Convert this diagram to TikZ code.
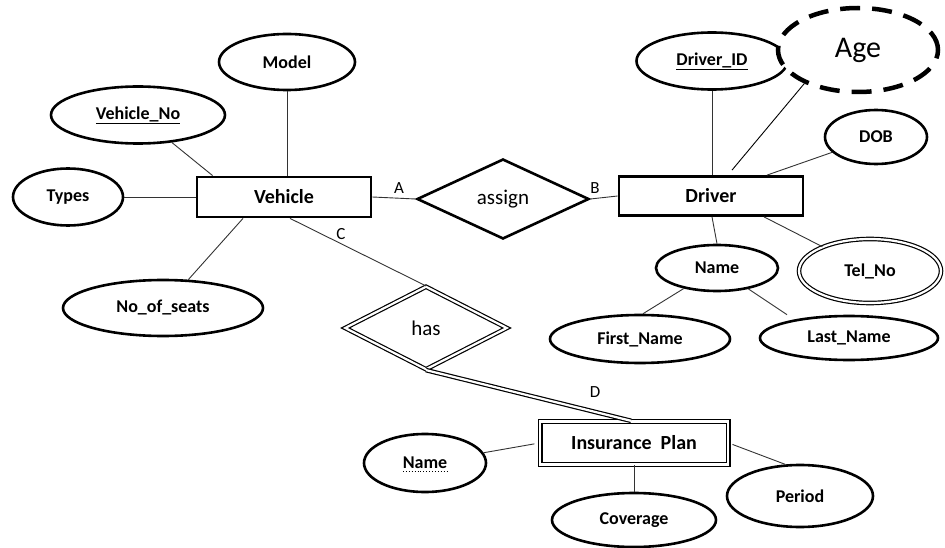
\documentclass[tikz,border=0pt]{standalone}
\usepackage{fontspec}
\setmainfont{Carlito}
\usetikzlibrary{shapes,positioning}

\begin{document}
\begin{tikzpicture}[x=1pt, y=-1pt, align=center]
    \tikzset{
        attr/.style     =   { ellipse
                            , draw=black
                            , line width=2.6pt
                            , inner sep=0pt
                            , font=\fontsize{18}{21}\selectfont\bfseries
        }
        , ent/.style    =   { rectangle
                            , draw=black
                            , line width=2.8pt
                            , inner sep=0pt
                            , font=\fontsize{20}{24}\selectfont\bfseries
        }
        , rel/.style    =   { diamond
                            , draw=black
                            , line width=2.6pt
                            , inner sep=0pt
                            , font=\fontsize{21}{25}\selectfont
        }
        , dbl/.style    =   { double
                            , double distance=2.2pt
                            , line width=1.2pt
        }
        , link/.style   =   { line width=0.9pt
                            , draw=black!80
        }
        , card/.style   =   { inner sep=0pt
                            , font=\fontsize{17}{20}\selectfont
        }
    }
    \useasboundingbox (0,0) rectangle (945,548);

    % entities and relationships
    \node(vehicle)[ent, minimum width=174pt, minimum height=40pt] at (284,197) {Vehicle};
    \node(driver)[ent, minimum width=184pt, minimum height=39pt] at (711,196) {Driver};
    \node(plan)[ent, dbl, line width=1.4pt, minimum width=188pt, minimum height=43pt] at (634,443) {Insurance\ \ Plan};
    \node(assign)[rel, minimum width=172pt, minimum height=80pt] at (503,199) {assign};
    \node(has)[rel, dbl, minimum width=162pt, minimum height=83pt] at (426,328) {has};

    % attributes
    \node(model)[attr, minimum width=136pt, minimum height=56pt] at (287,62) {Model};
    \node(vehicleno)[attr, minimum width=174pt, minimum height=57pt] at (138,115) {\underline{Vehicle\_No}};
    \node(types)[attr, minimum width=110pt, minimum height=57pt] at (68,197) {Types};
    \node(seats)[attr, minimum width=200pt, minimum height=56pt] at (163,308) {No\_of\_seats};
    \node(driverid)[attr, minimum width=151pt, minimum height=57pt] at (712,61) {\underline{Driver\_ID}};
    \node(dob)[attr, minimum width=102pt, minimum height=54pt] at (876,137) {DOB};
    \node(name)[attr, minimum width=122pt, minimum height=46pt] at (717,268) {Name};
    \node(telno)[attr, dbl, minimum width=142pt, minimum height=64pt] at (870,271) {Tel\_No};
    \node(first)[attr, minimum width=180pt, minimum height=48pt] at (640,339) {First\_Name};
    \node(last)[attr, minimum width=178pt, minimum height=44pt] at (849,338) {Last\_Name};
    \node(planname)[attr, minimum width=122pt, minimum height=58pt] at (425,463) {Name};
    \node(coverage)[attr, minimum width=164pt, minimum height=54pt] at (634,520) {Coverage};
    \node(period)[attr, minimum width=146pt, minimum height=62pt] at (800,496) {Period};
    \node(age)[attr, fill=white, line width=4.5pt, dash pattern=on 20pt off 12pt
        , font=\fontsize{30}{34}\selectfont, minimum width=160pt, minimum height=84pt] at (858,50) {Age};
    \draw[dotted, line width=0.9pt] ([xshift=-22pt, yshift=-8pt]planname.center) -- ([xshift=22pt, yshift=-8pt]planname.center);

    % cardinality labels
    \node(lblA)[card] at (399,188) {A};
    \node(lblB)[card] at (595,188) {B};
    \node(lblC)[card] at (341,234) {C};
    \node(lblD)[card] at (595,392) {D};

    \draw[link] (model.south) -- (model.south |- vehicle.north);
    \draw[link] (vehicleno) -- ([xshift=17pt]vehicle.north west);
    \draw[link] (types) -- (vehicle);
    \draw[link] (seats) -- ([xshift=-41pt]vehicle.south);
    \draw[link] ([xshift=6pt]vehicle.south) -- (has.north);
    \draw[link] (vehicle.east) -- (assign.west);
    \draw[link] (assign.east) -- (driver.west);
    \draw[link] (driverid.south) -- (driverid.south |- driver.north);
    \draw[link, draw=black] (age.212) -- ([xshift=21pt, yshift=5pt]driver.north);
    \draw[link] (dob) -- ([xshift=56pt]driver.north);
    \draw[link] ([xshift=1pt]driver.south) -- (name.north);
    \draw[link] ([xshift=53pt]driver.south) -- (telno);
    \draw[link] (name) -- ([xshift=3pt]first.north);
    \draw[link] (name) -- ([xshift=-62pt]last.north);
    \draw[dbl] (has.south) -- ([xshift=-3pt]plan.north);
    \draw[link, shorten >=5pt] (planname) -- (plan.west);
    \draw[link] (plan.south) -- (coverage.north);
    \draw[link, shorten <=4pt] (plan.east) -- (period.115);
\end{tikzpicture}
\end{document}
